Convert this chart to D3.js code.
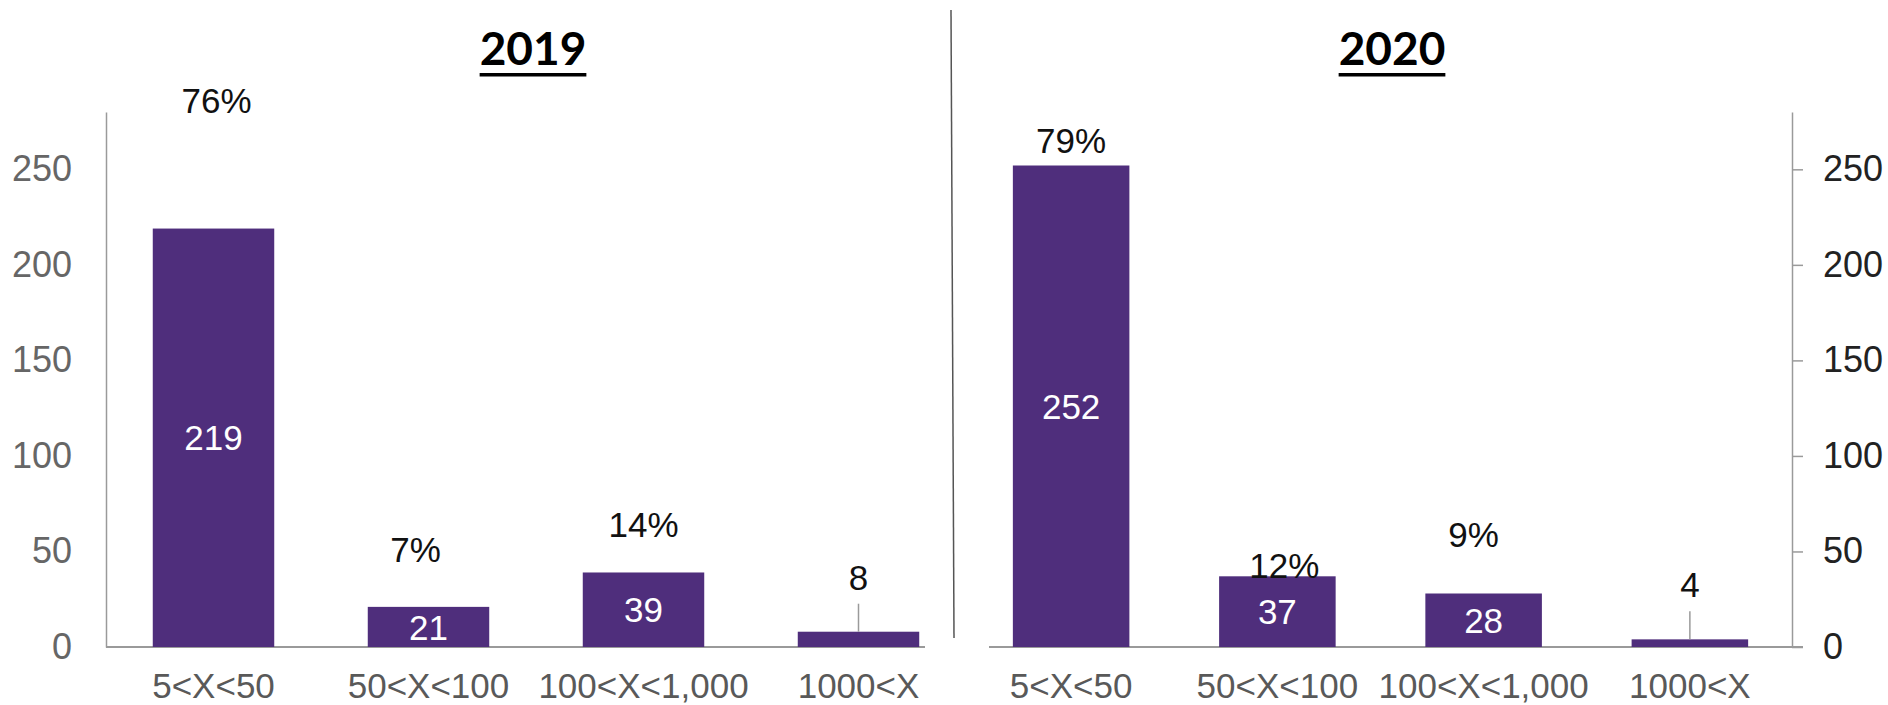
<!DOCTYPE html>
<html>
<head>
<meta charset="utf-8">
<script src="https://cdnjs.cloudflare.com/ajax/libs/d3/7.8.5/d3.min.js"></script>
<style>
  body { margin: 0; background: #fff; }
  text { font-family: "Liberation Sans", Arial, sans-serif; }
</style>
</head>
<body>
<div id="my_dataviz"></div>
<script>

// data
var categories = ["5<X<50", "50<X<100", "100<X<1,000", "1000<X"];
var years = ["2019", "2020"];
var counts2019 = [219, 21, 39, 8];
var counts2020 = [252, 37, 28, 4];
var yTicks = [0, 50, 100, 150, 200, 250];

var width = 1888;
var height = 705;
var barColor = "#4f2e7c";
var axisColor = "#9a9a9a";

var svg = d3.select("#my_dataviz")
  .append("svg")
  .attr("width", width)
  .attr("height", height);

// both panels share the same value scale
var y = d3.scaleLinear()
  .domain([0, 280])
  .range([647, 112]);

// layout for each panel, percent labels sit a bit randomly in the original so nudge them
var panels = [
  { year: years[0], counts: counts2019, range: [106, 966], axisX: 106, side: "left",
    base: [106, 925], titleX: 533, pctLift: [116, 45, 35], pctDx: [3, -13, 0] },
  { year: years[1], counts: counts2020, range: [968, 1793], axisX: 1792, side: "right",
    base: [989, 1803], titleX: 1392, pctLift: [13, -2, 47], pctDx: [0, 7, -10] }
];

panels.forEach(function(p) {

  var x = d3.scaleBand()
    .domain(categories)
    .range(p.range)
    .paddingInner(0.435)
    .paddingOuter(0.2175);

  var total = d3.sum(p.counts);
  var g = svg.append("g");

  // title with a thick underline
  var title = g.append("text")
    .attr("x", p.titleX)
    .attr("y", 65)
    .attr("text-anchor", "middle")
    .style("font-family", "Lato, 'Liberation Sans', sans-serif")
    .style("font-weight", "700")
    .style("font-size", "46px")
    .style("fill", "#000")
    .text(p.year);
  var tw = title.node().getComputedTextLength();
  g.append("rect")
    .attr("x", p.titleX - tw / 2)
    .attr("y", 73)
    .attr("width", tw)
    .attr("height", 3.5)
    .attr("fill", "#000");

  // y axis, left one has no ticks, right one ticks outward
  var yAxis = (p.side == "left" ? d3.axisLeft(y).tickSize(0).tickPadding(34)
                                : d3.axisRight(y).tickSize(11).tickPadding(20))
    .tickValues(yTicks)
    .tickSizeOuter(0);

  var ax = g.append("g")
    .attr("transform", "translate(" + p.axisX + ",0)")
    .call(yAxis);
  ax.select(".domain").attr("stroke", axisColor).attr("stroke-width", 1.5);
  ax.selectAll(".tick line").attr("stroke", axisColor).attr("stroke-width", 1.5);
  ax.selectAll(".tick text")
    .style("font-size", "36px")
    .style("font-family", "'Liberation Sans', Arial, sans-serif")
    .attr("fill", p.side == "left" ? "#666" : "#222");

  // baseline
  g.append("line")
    .attr("x1", p.base[0])
    .attr("x2", p.base[1])
    .attr("y1", y(0))
    .attr("y2", y(0))
    .attr("stroke", axisColor)
    .attr("stroke-width", 2);

  var rows = categories.map(function(c, i) { return { cat: c, v: p.counts[i], i: i }; });

  g.selectAll(".bar")
    .data(rows)
    .enter().append("rect")
    .attr("class", "bar")
    .attr("x", function(d) { return x(d.cat); })
    .attr("y", function(d) { return y(d.v); })
    .attr("width", x.bandwidth())
    .attr("height", function(d) { return y(0) - y(d.v); })
    .attr("fill", barColor);

  // category labels under the axis
  g.selectAll(".cat")
    .data(rows)
    .enter().append("text")
    .attr("x", function(d) { return x(d.cat) + x.bandwidth() / 2; })
    .attr("y", 698)
    .attr("text-anchor", "middle")
    .style("font-size", "35px")
    .style("fill", "#595959")
    .text(function(d) { return d.cat; });

  // bars tall enough get the count inside, the tiny one gets it above with a leader line
  var inside = rows.filter(function(d) { return y(0) - y(d.v) > 30; });
  var outside = rows.filter(function(d) { return y(0) - y(d.v) <= 30; });

  g.selectAll(".val")
    .data(inside)
    .enter().append("text")
    .attr("x", function(d) { return x(d.cat) + x.bandwidth() / 2; })
    .attr("y", function(d) { return (y(d.v) + y(0)) / 2; })
    .attr("dy", "0.36em")
    .attr("text-anchor", "middle")
    .style("font-size", "35px")
    .style("fill", "#fff")
    .text(function(d) { return d.v; });

  g.selectAll(".lead")
    .data(outside)
    .enter().append("line")
    .attr("x1", function(d) { return x(d.cat) + x.bandwidth() / 2; })
    .attr("x2", function(d) { return x(d.cat) + x.bandwidth() / 2; })
    .attr("y1", function(d) { return y(d.v); })
    .attr("y2", function(d) { return y(d.v) - 28; })
    .attr("stroke", axisColor)
    .attr("stroke-width", 1.5);

  g.selectAll(".valOut")
    .data(outside)
    .enter().append("text")
    .attr("x", function(d) { return x(d.cat) + x.bandwidth() / 2; })
    .attr("y", function(d) { return y(d.v) - 42; })
    .attr("text-anchor", "middle")
    .style("font-size", "35px")
    .style("fill", "#111")
    .text(function(d) { return d.v; });

  // percent of the year's total
  g.selectAll(".pct")
    .data(inside)
    .enter().append("text")
    .attr("x", function(d) { return x(d.cat) + x.bandwidth() / 2 + p.pctDx[d.i]; })
    .attr("y", function(d) { return y(d.v) - p.pctLift[d.i]; })
    .attr("text-anchor", "middle")
    .style("font-size", "35px")
    .style("fill", "#111")
    .text(function(d) { return Math.round(d.v / total * 100) + "%"; });

});

// thin divider between the two years
svg.append("line")
  .attr("x1", 951)
  .attr("y1", 10)
  .attr("x2", 954)
  .attr("y2", 638)
  .attr("stroke", "#555")
  .attr("stroke-width", 1.5);

</script>
</body>
</html>
